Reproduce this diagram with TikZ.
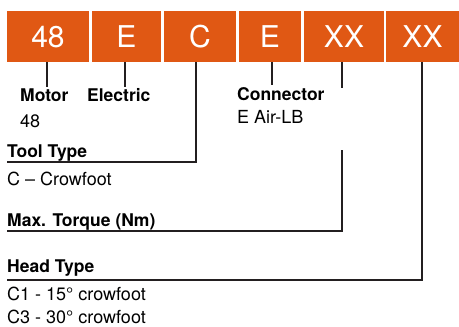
\documentclass[tikz,border=0pt]{standalone}
\usepackage{fontspec}
\setmainfont{TeX Gyre Heros}
\definecolor{codeorange}{RGB}{224,88,20}
\definecolor{leadgray}{RGB}{35,31,32}

\begin{document}
\begin{tikzpicture}[x=1pt,y=-1pt,
  seg/.style={fill=codeorange,text=white,minimum height=51pt,inner sep=0pt,
    text height=21.5pt,text depth=0pt,font=\fontsize{30}{30}\selectfont},
  lbl/.style={anchor=base west,inner sep=0pt,font=\fontsize{17.5}{19}\selectfont\bfseries},
  val/.style={anchor=base west,inner sep=0pt,font=\fontsize{18}{20}\selectfont},
  lead/.style={draw=leadgray,line width=2pt}]
\useasboundingbox (0,0) rectangle (459,327);
% code boxes
\node[seg,minimum width=82pt] (b1) at (48,36.5) {48};
\node[seg,minimum width=69pt] (b2) at (126.5,36.5) {E};
\node[seg,minimum width=72pt] (b3) at (200,36.5) {C};
\node[seg,minimum width=62pt] (b4) at (270,36.5) {E};
\node[seg,minimum width=80pt] (b5) at (344,36.5) {XX};
\node[seg,minimum width=73pt] (b6) at (422.5,36.5) {XX};
% labels
\node[lbl] (motor) at (20,101.5) {Motor};
\node[val] (motorval) at (20,127) {48};
\node[lbl] (electric) at (87,101.5) {Electric};
\node[lbl] (connector) at (237,100.5) {Connector};
\node[val] (connval) at (237,123.5) {E Air-LB};
\node[lbl] (tooltype) at (7,157) {Tool Type};
\node[val] (toolval) at (7,185) {C – Crowfoot};
\node[lbl] (torque) at (7,226.5) {Max. Torque (Nm)};
\node[lbl] (headtype) at (7,272) {Head Type};
\node[val] (head1) at (7,300) {C1 - 15° crowfoot};
\node[val] (head3) at (7,323) {C3 - 30° crowfoot};
% lead lines
\coordinate (motortip) at (47,87);
\coordinate (electip) at (125,87);
\coordinate (toolbend) at (196,162);
\coordinate (tooltip) at (7,162);
\coordinate (conntip) at (272,85);
\coordinate (torquetop) at (342,88);
\coordinate (torquestart) at (342,150);
\coordinate (torquebend) at (342,231);
\coordinate (torquetip) at (7,231);
\coordinate (headbend) at (422,279.5);
\coordinate (headtip) at (7,279.5);
\draw[lead] (b1.south -| motortip) -- (motortip);
\draw[lead] (b2.south -| electip) -- (electip);
\draw[lead] (b3.south -| toolbend) -- (toolbend) -- (tooltip);
\draw[lead] (b4.south -| conntip) -- (conntip);
\draw[lead] (b5.south -| torquetop) -- (torquetop);
\draw[lead] (torquestart) -- (torquebend) -- (torquetip);
\draw[lead] (b6.south -| headbend) -- (headbend) -- (headtip);
\end{tikzpicture}
\end{document}
